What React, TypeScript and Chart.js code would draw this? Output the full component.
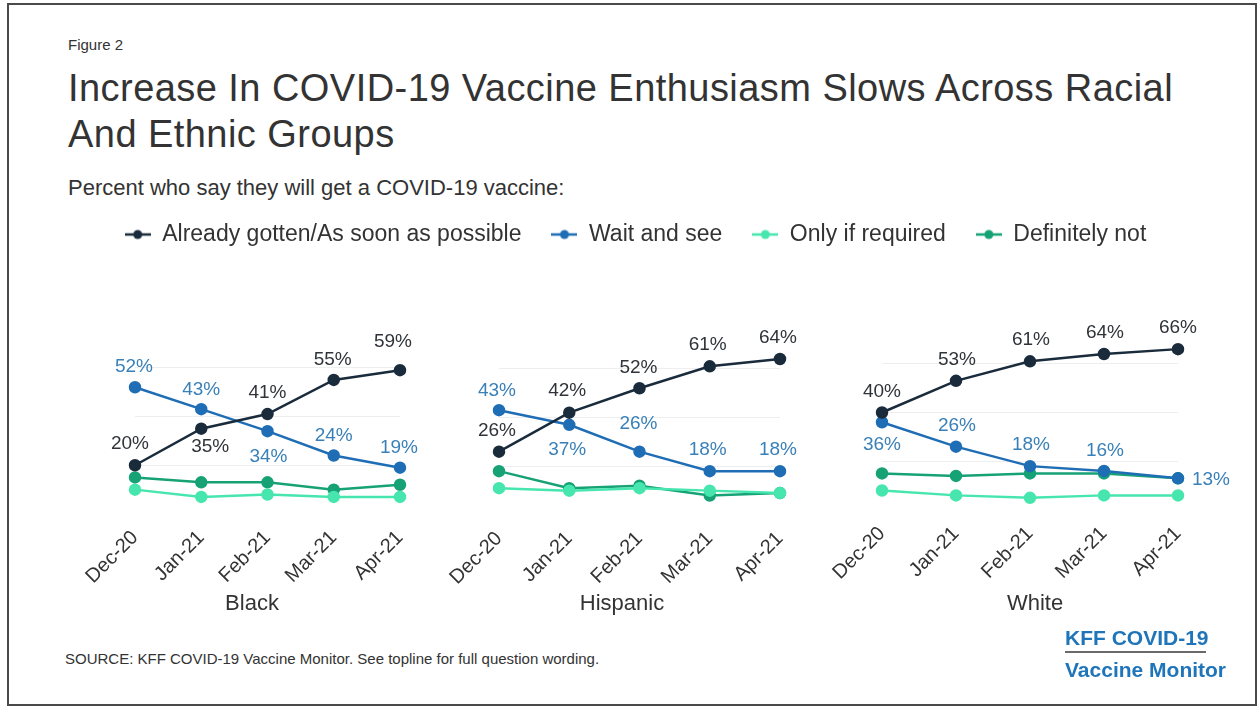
import React, { useEffect, useRef } from 'react';
import { Chart, registerables } from 'chart.js';

Chart.register(...registerables);

// ---------- data ----------
const categories = ['Dec-20', 'Jan-21', 'Feb-21', 'Mar-21', 'Apr-21'];
const seriesNames = ['Already gotten/As soon as possible', 'Wait and see', 'Only if required', 'Definitely not'];
const groups = ['Black', 'Hispanic', 'White'];

const blackAsap = [20, 35, 41, 55, 59];
const blackWait = [52, 43, 34, 24, 19];
const blackOnly = [10, 7, 8, 7, 7];
const blackNot = [15, 13, 13, 10, 12];

const hispAsap = [26, 42, 52, 61, 64];
const hispWait = [43, 37, 26, 18, 18];
const hispOnly = [11, 10, 11, 10, 9];
const hispNot = [18, 11, 12, 8, 9];

const whiteAsap = [40, 53, 61, 64, 66];
const whiteWait = [36, 26, 18, 16, 13];
const whiteOnly = [8, 6, 5, 6, 6];
const whiteNot = [15, 14, 15, 15, 13];

const panelSeries = [
  [blackAsap, blackWait, blackOnly, blackNot],
  [hispAsap, hispWait, hispOnly, hispNot],
  [whiteAsap, whiteWait, whiteOnly, whiteNot],
];

// ---------- styles ----------
const FONT = '"Liberation Sans", Arial, Helvetica, sans-serif';
const seriesColors = ['#1a2b3c', '#1f6eb5', '#46e6ae', '#16a275'];
const labelColors = ['#30343a', '#3a80b8'];

// label offsets (dx, dy) relative to each point, for the two labelled series
const labelOffsets = [
  [
    [[-5, -21], [9, 18], [0, -21], [-1, -20], [-7, -28]],
    [[-1, -20], [0, -19], [1, 26], [0, -20], [-1, -20]],
  ],
  [
    [[-2, -21], [-2, -22], [-1, -20], [-2, -22], [-2, -21]],
    [[-2, -19], [-2, 25], [-1, -28], [-2, -21], [-2, -21]],
  ],
  [
    [[0, -21], [1, -21], [1, -22], [1, -21], [0, -21]],
    [[0, 23], [1, -21], [1, -21], [1, -20], [33, 1]],
  ],
];

// panel geometry: first/last category pixel, canvas top, group label centre
const panelLayout = [
  { first: 135, last: 400, top: 300, title: 252 },
  { first: 499, last: 780, top: 301, title: 622 },
  { first: 882, last: 1178, top: 296, title: 1035 },
];
const PAD_X = 70;
const PAD_TOP = 19;
const PLOT_H = 195;
const AXIS_H = 106;

const valueLabels = {
  id: 'valueLabels',
  afterDatasetsDraw(chart: any, _args: any, opts: any) {
    const offsets = opts.offsets as number[][][];
    if (!offsets) return;
    const ctx = chart.ctx;
    ctx.save();
    ctx.font = `19px ${FONT}`;
    ctx.textAlign = 'center';
    ctx.textBaseline = 'middle';
    offsets.forEach((arr, di) => {
      const meta = chart.getDatasetMeta(di);
      const ds = chart.data.datasets[di];
      ctx.fillStyle = labelColors[di];
      meta.data.forEach((pt: any, i: number) => {
        ctx.fillText(`${ds.data[i]}%`, pt.x + arr[i][0], pt.y + arr[i][1]);
      });
    });
    ctx.restore();
  },
};

function Panel({ idx }: { idx: number }) {
  const ref = useRef<HTMLCanvasElement>(null);
  const lay = panelLayout[idx];
  const width = lay.last - lay.first + PAD_X * 2;
  const height = PAD_TOP + PLOT_H + AXIS_H;
  useEffect(() => {
    const chart = new Chart(ref.current as HTMLCanvasElement, {
      type: 'line',
      data: {
        labels: categories,
        datasets: panelSeries[idx].map((values, si) => ({
          label: seriesNames[si],
          data: values,
          borderColor: seriesColors[si],
          backgroundColor: seriesColors[si],
          pointBackgroundColor: seriesColors[si],
          pointBorderColor: seriesColors[si],
          borderWidth: 2.5,
          pointRadius: 5,
          pointHoverRadius: 5,
          tension: 0,
        })),
      },
      options: {
        animation: false,
        responsive: false,
        events: [],
        layout: { padding: { left: PAD_X, right: PAD_X, top: PAD_TOP, bottom: 0 } },
        plugins: {
          legend: { display: false },
          tooltip: { enabled: false },
          valueLabels: { offsets: labelOffsets[idx] },
        } as any,
        scales: {
          x: {
            type: 'category',
            offset: false,
            grid: { display: false },
            border: { display: false },
            ticks: {
              autoSkip: false,
              minRotation: 45,
              maxRotation: 45,
              color: '#333',
              padding: 4,
              font: { size: 20, family: FONT },
            },
            afterFit: (s: any) => {
              s.height = AXIS_H;
            },
          },
          y: {
            min: 0,
            max: 80,
            ticks: { display: false, stepSize: 20 },
            grid: {
              drawTicks: false,
              color: (c: any) => (c.tick && (c.tick.value === 0 || c.tick.value === 80) ? 'rgba(0,0,0,0)' : '#eeeeee'),
            },
            border: { display: false },
          },
        },
      },
      plugins: [valueLabels as any],
    });
    return () => chart.destroy();
  }, [idx]);
  return (
    <>
      <canvas
        ref={ref}
        width={width}
        height={height}
        style={{ position: 'absolute', left: lay.first - PAD_X, top: lay.top, width, height }}
      />
      <div
        style={{
          position: 'absolute',
          left: lay.title - 100,
          width: 200,
          textAlign: 'center',
          top: 592,
          fontSize: 22,
          lineHeight: '22px',
          color: '#333',
          fontFamily: FONT,
        }}
      >
        {groups[idx]}
      </div>
    </>
  );
}

function makeMarker(color: string) {
  const c = document.createElement('canvas');
  c.width = 26;
  c.height = 12;
  const g = c.getContext('2d') as CanvasRenderingContext2D;
  g.strokeStyle = color;
  g.lineWidth = 2.5;
  g.beginPath();
  g.moveTo(0, 6);
  g.lineTo(26, 6);
  g.stroke();
  g.fillStyle = color;
  g.beginPath();
  g.arc(13, 6, 4.5, 0, Math.PI * 2);
  g.fill();
  return c;
}

function Legend() {
  const ref = useRef<HTMLCanvasElement>(null);
  useEffect(() => {
    const markers = seriesColors.map(makeMarker);
    const chart = new Chart(ref.current as HTMLCanvasElement, {
      type: 'line',
      data: {
        labels: [],
        datasets: seriesNames.map((n, i) => ({ label: n, data: [], borderColor: seriesColors[i], backgroundColor: seriesColors[i] })),
      },
      options: {
        animation: false,
        responsive: false,
        events: [],
        layout: { padding: { left: 12, top: 0 } },
        scales: { x: { display: false }, y: { display: false } },
        plugins: {
          tooltip: { enabled: false },
          legend: {
            display: true,
            position: 'top',
            labels: {
              usePointStyle: true,
              pointStyleWidth: 26,
              padding: 30,
              color: '#333',
              font: { size: 23, family: FONT },
              generateLabels: (ch: any) =>
                ch.data.datasets.map((ds: any, i: number) => ({
                  text: ds.label,
                  fillStyle: seriesColors[i],
                  strokeStyle: seriesColors[i],
                  lineWidth: 0,
                  pointStyle: markers[i],
                  hidden: false,
                  datasetIndex: i,
                  fontColor: '#333',
                })),
            },
          },
        },
      },
    });
    return () => chart.destroy();
  }, []);
  return <canvas ref={ref} width={1259} height={220} style={{ position: 'absolute', left: 0, top: 193, width: 1259, height: 220 }} />;
}

const textBase: React.CSSProperties = { position: 'absolute', fontFamily: FONT, color: '#333', whiteSpace: 'nowrap', lineHeight: 1 };

export default function App() {
  return (
    <div style={{ position: 'absolute', left: 0, top: 0, width: 1259, height: 708, background: '#fff', overflow: 'hidden' }}>
      <div style={{ position: 'absolute', left: 7, top: 3, width: 1250, height: 703, boxSizing: 'border-box', border: '2px solid #4a4a4a' }} />
      <div style={{ ...textBase, left: 68, top: 37, fontSize: 15 }}>Figure 2</div>
      <div style={{ ...textBase, left: 68, top: 68.5, fontSize: 38, letterSpacing: 0.45 }}>
        Increase In COVID-19 Vaccine Enthusiasm Slows Across Racial
      </div>
      <div style={{ ...textBase, left: 68, top: 115, fontSize: 38, letterSpacing: 0.45 }}>And Ethnic Groups</div>
      <div style={{ ...textBase, left: 68, top: 177, fontSize: 22 }}>Percent who say they will get a COVID-19 vaccine:</div>
      <Legend />
      {groups.map((_, i) => (
        <Panel key={i} idx={i} />
      ))}
      <div style={{ ...textBase, left: 65, top: 651, fontSize: 15 }}>
        SOURCE: KFF COVID-19 Vaccine Monitor. See topline for full question wording.
      </div>
      <div style={{ ...textBase, left: 1065, top: 627, fontSize: 21, fontWeight: 'bold', color: '#1f75b9' }}>KFF COVID-19</div>
      <div style={{ position: 'absolute', left: 1065, top: 651, width: 141, height: 2, background: '#6a6a6a' }} />
      <div style={{ ...textBase, left: 1065, top: 659, fontSize: 21, fontWeight: 'bold', color: '#1f75b9' }}>Vaccine Monitor</div>
    </div>
  );
}
